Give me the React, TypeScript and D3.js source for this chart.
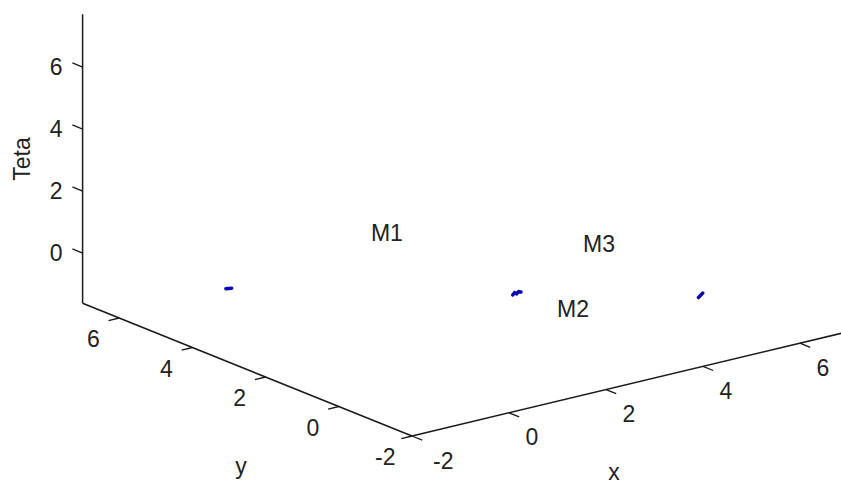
import * as d3 from "d3";
import React from "react";

// axis limits (x, y, teta)
const xLim = [-2, 7];
const yLim = [-2, 7];
const tetaLim = [-1.62, 7.7];

const xTicks = [-2, 0, 2, 4, 6];
const yTicks = [-2, 0, 2, 4, 6];
const tetaTicks = [0, 2, 4, 6];

// short traces of the three machines
const m1X = [-1.31, -1.25, -1.19];
const m1Y = [4.0, 4.0, 4.0];
const m1Teta = [0.02, 0.005, -0.01];

const m2X = [2.22, 2.26, 2.3, 2.34, 2.39];
const m2Y = [0.84, 0.84, 0.84, 0.84, 0.84];
const m2Teta = [0, 0.06, 0.01, 0.06, 0.03];

const m3X = [4.57, 4.61, 4.66];
const m3Y = [-1.12, -1.12, -1.12];
const m3Teta = [-0.03, 0.02, 0.08];

const labelNames = ["M1", "M2", "M3"];
const labelX = [2.36, 2.34, 4.78];
const labelY = [4.9, -0.21, 2.31];
const labelTeta = [0, 0, 0];

const W = 841;
const H = 486;
const FONT = "'Liberation Sans', Arial, sans-serif";

// projection of the 3D box onto the screen
const ox = 412;
const oy = 436;
const xToPx = d3.scaleLinear().domain(xLim).range([0, 436.5]);
const xToPy = d3.scaleLinear().domain(xLim).range([0, -104.4]);
const yToPx = d3.scaleLinear().domain(yLim).range([0, -329.4]);
const yToPy = d3.scaleLinear().domain(yLim).range([0, -132.75]);
const tToPy = d3.scaleLinear().domain(tetaLim).range([0, -288.9]);

const proj = (x: number, y: number, t: number): [number, number] => [
  ox + xToPx(x) + yToPx(y),
  oy + xToPy(x) + yToPy(y) + tToPy(t),
];

const unit = (dx: number, dy: number) => {
  const l = Math.hypot(dx, dy);
  return [dx / l, dy / l];
};

export default function App() {
  const [xmin, xmax] = xLim;
  const [ymin, ymax] = yLim;
  const [tmin, tmax] = tetaLim;
  const tickLen = 11;

  // directions for tick marks
  const xDir = unit(xToPx(xmax) - xToPx(xmin), xToPy(xmax) - xToPy(xmin));
  const yDir = unit(yToPx(ymax) - yToPx(ymin), yToPy(ymax) - yToPy(ymin));

  const line = d3
    .line<[number, number]>()
    .x((d) => d[0])
    .y((d) => d[1]);

  const traces = [
    [m1X, m1Y, m1Teta],
    [m2X, m2Y, m2Teta],
    [m3X, m3Y, m3Teta],
  ].map(([xs, ys, ts]) => xs.map((x, i) => proj(x, ys[i], ts[i])));

  const axisStroke = "#1a1a1a";
  const textFill = "#222";

  const xA = proj(xmin, ymin, tmin);
  const xB = proj(xmax, ymin, tmin);
  const yB = proj(xmin, ymax, tmin);
  const zB = proj(xmin, ymax, tmax);

  return (
    <svg
      width={W}
      height={H}
      style={{ position: "absolute", left: 0, top: 0, background: "#fff" }}
      fontFamily={FONT}
    >
      <rect width={W} height={H} fill="#fff" />
      {/* axis lines */}
      <g stroke={axisStroke} strokeWidth={1.5} fill="none">
        <line x1={xA[0]} y1={xA[1]} x2={xB[0]} y2={xB[1]} />
        <line x1={xA[0]} y1={xA[1]} x2={yB[0]} y2={yB[1]} />
        <line x1={yB[0]} y1={yB[1]} x2={zB[0]} y2={zB[1]} />
      </g>

      {/* x ticks */}
      {xTicks.map((v) => {
        const [px, py] = proj(v, ymin, tmin);
        return (
          <g key={"xt" + v}>
            <line
              x1={px}
              y1={py}
              x2={px - yDir[0] * tickLen}
              y2={py - yDir[1] * tickLen}
              stroke={axisStroke}
              strokeWidth={1.3}
            />
            <text
              x={px + (v < 0 ? 21 : 16.5)}
              y={py + 24.5}
              fontSize={23}
              fill={textFill}
              dominantBaseline="central"
            >
              {v}
            </text>
          </g>
        );
      })}

      {/* y ticks */}
      {yTicks.map((v) => {
        const [px, py] = proj(xmin, v, tmin);
        return (
          <g key={"yt" + v}>
            <line
              x1={px}
              y1={py}
              x2={px - xDir[0] * tickLen}
              y2={py - xDir[1] * tickLen}
              stroke={axisStroke}
              strokeWidth={1.3}
            />
            <text
              x={px + (v < 0 ? -16.5 : -19.5)}
              y={py + 21}
              fontSize={23}
              fill={textFill}
              textAnchor="end"
              dominantBaseline="central"
            >
              {v}
            </text>
          </g>
        );
      })}

      {/* teta ticks */}
      {tetaTicks.map((v) => {
        const [px, py] = proj(xmin, ymax, v);
        return (
          <g key={"zt" + v}>
            <line
              x1={px}
              y1={py}
              x2={px + yDir[0] * tickLen}
              y2={py + yDir[1] * tickLen}
              stroke={axisStroke}
              strokeWidth={1.3}
            />
            <text
              x={px - 20}
              y={py}
              fontSize={23}
              fill={textFill}
              textAnchor="end"
              dominantBaseline="central"
            >
              {v}
            </text>
          </g>
        );
      })}

      {/* axis labels */}
      <text x={241} y={474} fontSize={23} fill={textFill} textAnchor="middle">
        y
      </text>
      <text x={614} y={480} fontSize={23} fill={textFill} textAnchor="middle">
        x
      </text>
      <text
        transform="translate(22,159) rotate(-90)"
        fontSize={23}
        fill={textFill}
        textAnchor="middle"
        dominantBaseline="central"
      >
        Teta
      </text>

      {/* machine traces */}
      {traces.map((pts, i) => (
        <path
          key={"tr" + i}
          d={line(pts) || ""}
          fill="none"
          stroke="#0a0ab4"
          strokeWidth={3.5}
          strokeLinecap="round"
        />
      ))}

      {/* machine labels */}
      {labelNames.map((name, i) => {
        const [px, py] = proj(labelX[i], labelY[i], labelTeta[i]);
        return (
          <text
            key={name}
            x={px}
            y={py}
            fontSize={23}
            fill={textFill}
            dominantBaseline="central"
          >
            {name}
          </text>
        );
      })}
    </svg>
  );
}
